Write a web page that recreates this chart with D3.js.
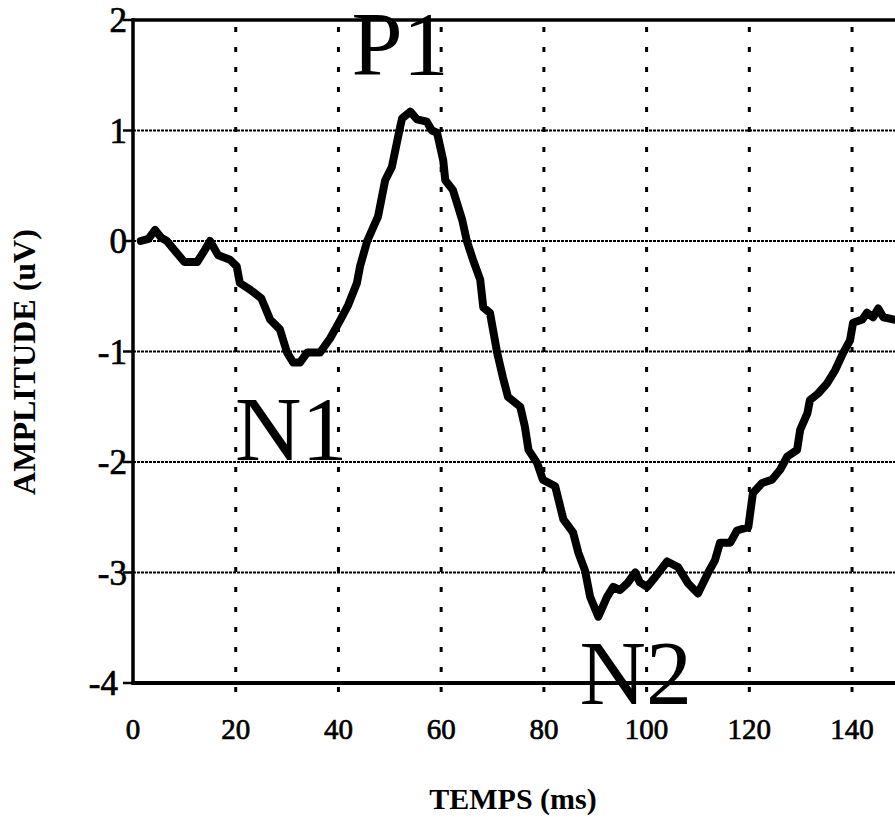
<!DOCTYPE html>
<meta charset="utf-8">
<script src="https://d3js.org/d3.v7.min.js"></script>
<style>
  body { margin: 0; background: white; }
  text { font-family: "Liberation Serif", "DejaVu Serif", serif; fill: black; }
</style>
<div id="my_dataviz"></div>
<script>

// time (ms) and amplitude (uV)
const times = [1.5, 3, 4.3, 5.5, 6.6, 8, 10, 12.5, 14, 15, 16.6, 18.9, 20.2, 20.8, 22.8, 25,
  26.7, 28.6, 30, 31.2, 32.5, 33.9, 36.4, 38.4, 40.3, 41.9, 43.6, 44.2, 45.6, 47.7, 49.1,
  50.4, 52, 52.4, 54, 55.3, 57.2, 58.2, 59.2, 60.4, 60.8, 62.3, 64.1, 65, 66.2, 67.6, 68.2,
  69.5, 70.9, 72, 73, 75.4, 76.3, 77, 78.7, 79.8, 82.2, 83.8, 85.7, 86.7, 88, 89, 90.6,
  92.3, 93.5, 94.8, 96.2, 97.8, 98.7, 100.1, 101.7, 104, 106.1, 108.1, 110, 112, 113.3,
  114.3, 116.3, 117.6, 119.8, 120.7, 122.5, 124.4, 126, 127.4, 129.3, 129.9, 131.3, 131.8,
  133.4, 135.1, 136.7, 138.3, 139.6, 140.2, 142, 142.9, 144.1, 145.1, 146.1, 148, 150]
const amplitude = [0, 0.02, 0.1, 0.03, 0, -0.08, -0.19, -0.19, -0.08, 0, -0.13, -0.17, -0.23, -0.38, -0.44, -0.52,
  -0.71, -0.8, -1.01, -1.1, -1.1, -1.01, -1.01, -0.88, -0.72, -0.58, -0.38, -0.23, 0, 0.22, 0.55,
  0.67, 1.03, 1.11, 1.17, 1.1, 1.08, 1.0, 0.98, 0.73, 0.55, 0.46, 0.19, 0, -0.17, -0.35, -0.6,
  -0.65, -1.01, -1.23, -1.41, -1.5, -1.68, -1.89, -2.01, -2.16, -2.22, -2.52, -2.64, -2.82, -2.98, -3.22, -3.4,
  -3.22, -3.13, -3.16, -3.1, -3.0, -3.09, -3.13, -3.04, -2.9, -2.95, -3.1, -3.19, -3.0, -2.89,
  -2.73, -2.73, -2.62, -2.59, -2.28, -2.19, -2.16, -2.07, -1.95, -1.89, -1.71, -1.56, -1.44,
  -1.38, -1.29, -1.17, -1.01, -0.9, -0.74, -0.71, -0.65, -0.69, -0.61, -0.69, -0.71, -0.72]

const xTicks = [0, 20, 40, 60, 80, 100, 120, 140]
const yTicks = [-4, -3, -2, -1, 0, 1, 2]

// component labels, placed in data coordinates (time, amplitude of baseline)
const peakNames = ["P1", "N1", "N2"]
const peakTimes = [52, 30.8, 97.9]
const peakAmps = [1.5, -1.98, -4.19]

const width = 895, height = 825

const svg = d3.select("#my_dataviz")
  .append("svg")
    .attr("width", width)
    .attr("height", height)

const x = d3.scaleLinear().domain([0, 150]).range([133, 133 + 150 * 5.136])
const y = d3.scaleLinear().domain([-4, 2]).range([683, 20])

// horizontal grid (fine dotted)
svg.selectAll(".hgrid")
  .data(yTicks.filter(d => d > -4 && d < 2))
  .join("line")
    .attr("x1", x(0)).attr("x2", width)
    .attr("y1", d => y(d)).attr("y2", d => y(d))
    .attr("stroke", "black")
    .attr("stroke-width", 2.2)
    .attr("stroke-dasharray", "3,1")

// vertical grid (sparse dots)
svg.selectAll(".vgrid")
  .data(xTicks.filter(d => d > 0))
  .join("line")
    .attr("x1", d => x(d)).attr("x2", d => x(d))
    .attr("y1", y(-4) + 9).attr("y2", y(2))
    .attr("stroke", "black")
    .attr("stroke-width", 3)
    .attr("stroke-dasharray", "5,15")

// frame: left, bottom, top
svg.append("line")
  .attr("x1", x(0)).attr("x2", x(0)).attr("y1", y(2) - 2).attr("y2", y(-4) + 2)
  .attr("stroke", "black").attr("stroke-width", 3.5)
svg.append("line")
  .attr("x1", x(0)).attr("x2", width).attr("y1", y(-4)).attr("y2", y(-4))
  .attr("stroke", "black").attr("stroke-width", 4)
svg.append("line")
  .attr("x1", x(0)).attr("x2", width).attr("y1", y(2)).attr("y2", y(2))
  .attr("stroke", "black").attr("stroke-width", 3.5)

// y ticks and labels
svg.selectAll(".ytick")
  .data(yTicks)
  .join("line")
    .attr("x1", x(0) - 10).attr("x2", x(0))
    .attr("y1", d => y(d)).attr("y2", d => y(d))
    .attr("stroke", "black").attr("stroke-width", 2.5)

svg.selectAll(".ylabel")
  .data(yTicks)
  .join("text")
    .attr("x", d => d === -4 ? 118 : 127)
    .attr("y", d => y(d) + 12)
    .attr("text-anchor", "end")
    .attr("font-size", "35px")
    .attr("stroke", "black")
    .attr("stroke-width", 0.7)
    .text(d => d)

// x labels
svg.selectAll(".xlabel")
  .data(xTicks)
  .join("text")
    .attr("x", d => x(d))
    .attr("y", 739)
    .attr("text-anchor", "middle")
    .attr("font-size", "29px")
    .attr("stroke", "black")
    .attr("stroke-width", 0.7)
    .text(d => d)

// axis titles
svg.append("text")
  .attr("transform", "translate(35, 362) rotate(-90)")
  .attr("text-anchor", "middle")
  .attr("font-size", "32px")
  .attr("font-weight", "bold")
  .text("AMPLITUDE (uV)")

svg.append("text")
  .attr("x", 513)
  .attr("y", 809)
  .attr("text-anchor", "middle")
  .attr("font-size", "30px")
  .attr("font-weight", "bold")
  .text("TEMPS (ms)")

// the evoked response trace
const pts = times.map((t, i) => [t, amplitude[i]])
svg.append("path")
  .datum(pts)
  .attr("fill", "none")
  .attr("stroke", "black")
  .attr("stroke-width", 8)
  .attr("stroke-linejoin", "round")
  .attr("stroke-linecap", "round")
  .attr("d", d3.line().x(d => x(d[0])).y(d => y(d[1])))

// peak names
svg.selectAll(".peak")
  .data(peakNames)
  .join("text")
    .attr("x", (d, i) => x(peakTimes[i]))
    .attr("y", (d, i) => y(peakAmps[i]))
    .attr("text-anchor", "middle")
    .attr("font-size", "92px")
    .text(d => d)

</script>
